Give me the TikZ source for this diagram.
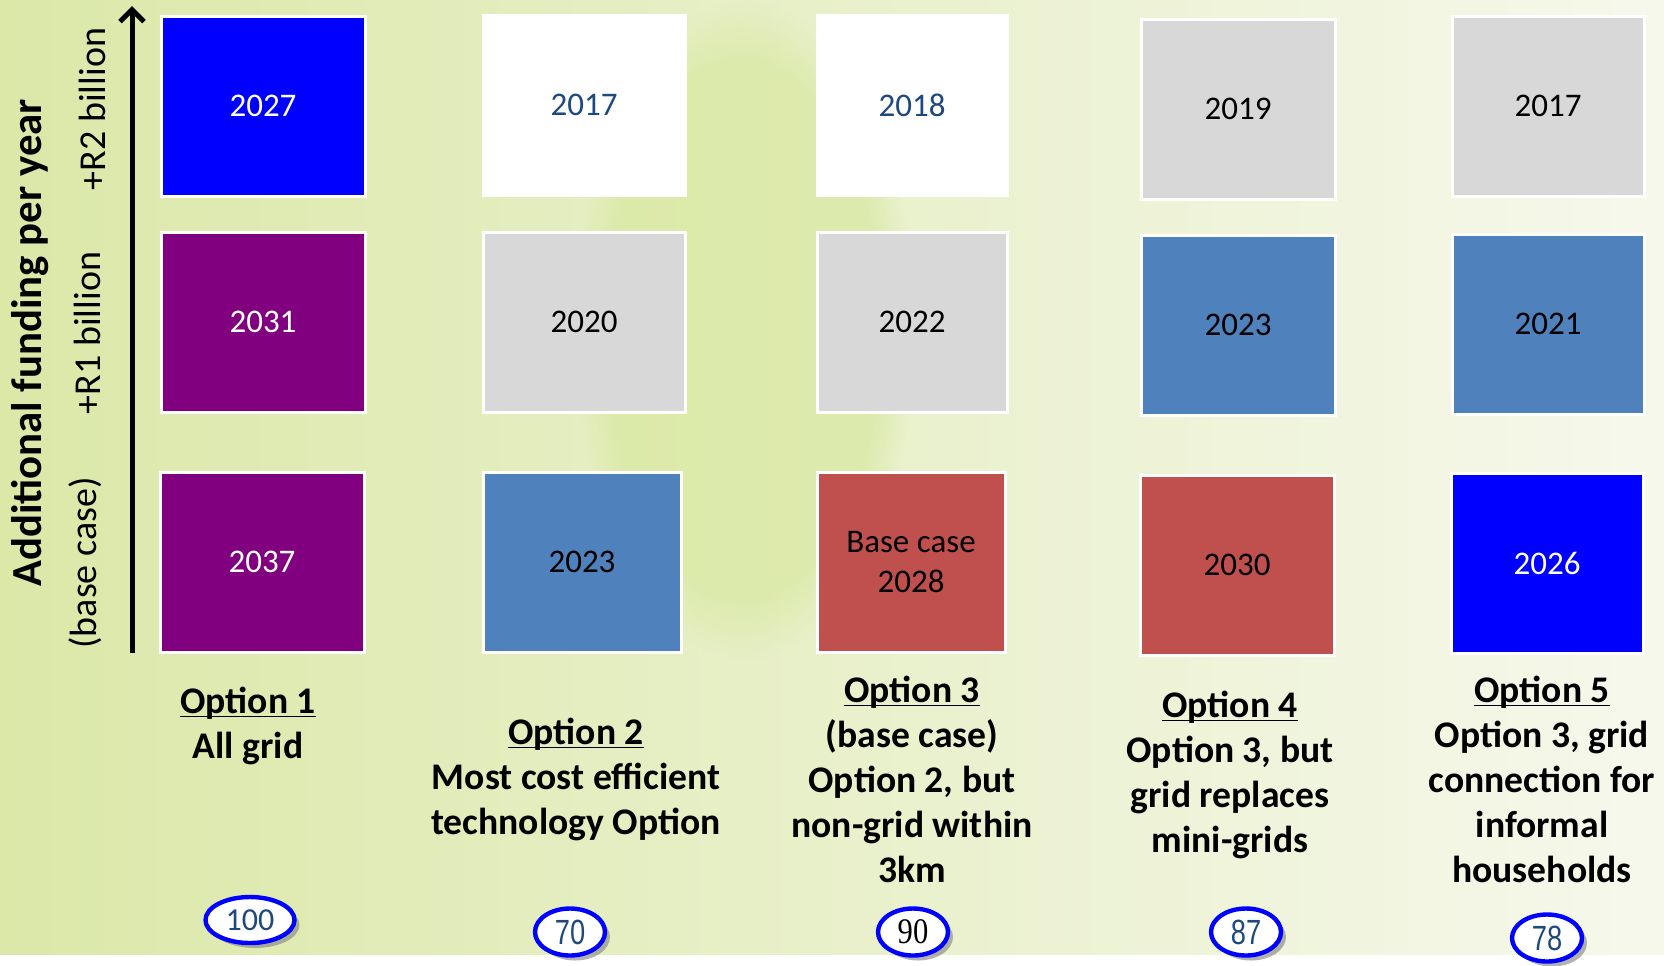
\documentclass[tikz,border=0pt]{standalone}
\usepackage{graphicx}
\usepackage{fontspec}
\setmainfont{Carlito}
\newfontfamily\narrowfont{Liberation Sans}
\newfontfamily\serifnum{Liberation Serif}
\usetikzlibrary{arrows.meta,shapes.geometric,shadows,fadings}

\definecolor{barblue}{RGB}{0,0,255}
\definecolor{barpurple}{RGB}{128,0,128}
\definecolor{bargray}{RGB}{216,216,216}
\definecolor{barsteel}{RGB}{79,129,189}
\definecolor{barred}{RGB}{192,80,77}
\definecolor{numblue}{RGB}{31,73,125}
\definecolor{bgleft}{RGB}{219,232,168}
\definecolor{bgright}{RGB}{246,248,236}
\definecolor{glow}{RGB}{208,228,140}

\newcommand\optunder[1]{\underline{\raisebox{0pt}[\height][0pt]{#1}}}

\tikzset{
  year/.style={draw=white, line width=1.5pt, minimum height=90pt, inner sep=0pt, align=center,
    font=\fontsize{16.5}{20}\selectfont},
  optlabel/.style={anchor=north, inner sep=0pt, align=center, font=\fontsize{18.8}{22.5}\selectfont\bfseries},
  axislabel/.style={rotate=90, inner sep=0pt, font=\fontsize{19}{21}\selectfont},
  score/.style={ellipse, draw=blue, line width=2.2pt, fill=white, inner sep=0pt,
    minimum width=35pt, minimum height=23.5pt, text=numblue, font=\fontsize{17.5}{17.5}\narrowfont,
    drop shadow={shadow xshift=2.5pt, shadow yshift=-2.5pt, fill=black!50, opacity=0.6}}
}

\begin{document}
\begin{tikzpicture}[x=0.5pt, y=-0.5pt]
        \useasboundingbox (0,0) rectangle (1664,965);
        % background
        \fill[left color=bgleft, right color=bgright] (0,0) rectangle (1664,955);
        \fill[glow, path fading=circle with fuzzy edge 20 percent, fill opacity=0.45] (745,330) ellipse (170 and 330);
        \fill[white] (0,955) rectangle (1664,965);

        % funding axis
        \coordinate (axisbottom) at (132,653);
        \coordinate (axistop) at (132,6);
        \draw[line width=2.5pt, -{Straight Barb[length=6pt, width=12pt]}] (axisbottom) -- (axistop);
        \node[axislabel, font=\fontsize{21.4}{24}\selectfont\bfseries] (ytitle) at (30,343) {Additional funding per year};
        \node[axislabel] (r2) at (92,109) {+R2 billion};
        \node[axislabel] (r1) at (87,333) {+R1 billion};
        \node[axislabel] (basecase) at (85,563) {(base case)};

        % option 1
        \node[year, fill=barblue, text=white, minimum width=102pt] (o1top) at (263,106) {2027};
        \node[year, fill=barpurple, text=white, minimum width=102pt] (o1mid) at (263,322) {2031};
        \node[year, fill=barpurple, text=white, minimum width=102pt] (o1bot) at (262,562) {2037};
        % option 2
        \node[year, fill=white, text=numblue, minimum width=101pt] (o2top) at (584,105) {2017};
        \node[year, fill=bargray, minimum width=101pt] (o2mid) at (584,322) {2020};
        \node[year, fill=barsteel, minimum width=99pt] (o2bot) at (582,562) {2023};
        % option 3
        \node[year, fill=white, text=numblue, minimum width=95pt] (o3top) at (912,105) {2018};
        \node[year, fill=bargray, minimum width=95pt] (o3mid) at (912,322) {2022};
        \node[year, fill=barred, minimum width=94pt] (o3bot) at (911,562) {Base case\\2028};
        % option 4
        \node[year, fill=bargray, minimum width=97pt] (o4top) at (1238,109) {2019};
        \node[year, fill=barsteel, minimum width=97pt] (o4mid) at (1238,325) {2023};
        \node[year, fill=barred, minimum width=97pt] (o4bot) at (1237,565) {2030};
        % option 5
        \node[year, fill=bargray, minimum width=96pt] (o5top) at (1548,106) {2017};
        \node[year, fill=barsteel, minimum width=96pt] (o5mid) at (1548,324) {2021};
        \node[year, fill=barblue, text=white, minimum width=96pt] (o5bot) at (1547,563) {2026};

        % option names
        \node[optlabel] (opt1) at (248,687) {\optunder{Option 1}\\All grid};
        \node[optlabel] (opt2) at (576,718) {\optunder{Option 2}\\Most cost efficient\\technology Option};
        \node[optlabel] (opt3) at (912,676) {\optunder{Option 3}\\(base case)\\Option 2, but\\non-grid within\\3km};
        \node[optlabel] (opt4) at (1230,691) {\optunder{Option 4}\\Option 3, but\\grid replaces\\mini-grids};
        \node[optlabel] (opt5) at (1542,676) {\optunder{Option 5}\\Option 3, grid\\connection for\\informal\\households};

        % scores
        \node[score, minimum width=44.5pt, minimum height=23pt, font=\fontsize{16}{16}\selectfont] (s1) at (250,920) {100};
        \node[score] (s2) at (570,932) {\scalebox{0.78}[1]{70}};
        \node[score, text=black, font=\fontsize{18}{18}\serifnum] (s3) at (913,932) {\scalebox{0.85}[1]{90}};
        \node[score] (s4) at (1246,932) {\scalebox{0.78}[1]{87}};
        \node[score] (s5) at (1547,938) {\scalebox{0.78}[1]{78}};
      \end{tikzpicture}
\end{document}
